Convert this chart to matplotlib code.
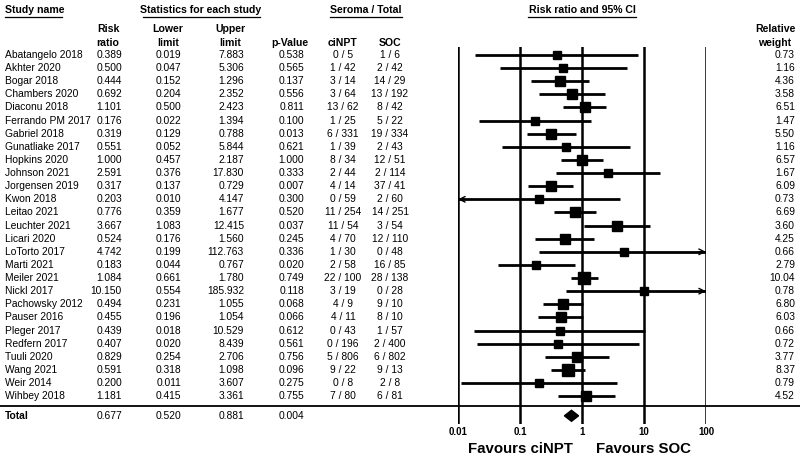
import numpy as np
import matplotlib
matplotlib.use("Agg")
import matplotlib.pyplot as plt
from matplotlib import transforms
from matplotlib.lines import Line2D

plt.rcParams['font.family'] = ['Liberation Sans', 'DejaVu Sans']

studies = ["Abatangelo 2018", "Akhter 2020", "Bogar 2018", "Chambers 2020", "Diaconu 2018",
           "Ferrando PM 2017", "Gabriel 2018", "Gunatliake 2017", "Hopkins 2020", "Johnson 2021",
           "Jorgensen 2019", "Kwon 2018", "Leitao 2021", "Leuchter 2021", "Licari 2020",
           "LoTorto 2017", "Marti 2021", "Meiler 2021", "Nickl 2017", "Pachowsky 2012",
           "Pauser 2016", "Pleger 2017", "Redfern 2017", "Tuuli 2020", "Wang 2021",
           "Weir 2014", "Wihbey 2018"]
risk_ratio = [0.389, 0.500, 0.444, 0.692, 1.101, 0.176, 0.319, 0.551, 1.000, 2.591,
              0.317, 0.203, 0.776, 3.667, 0.524, 4.742, 0.183, 1.084, 10.150, 0.494,
              0.455, 0.439, 0.407, 0.829, 0.591, 0.200, 1.181]
lower = [0.019, 0.047, 0.152, 0.204, 0.500, 0.022, 0.129, 0.052, 0.457, 0.376,
         0.137, 0.00995, 0.359, 1.083, 0.176, 0.199, 0.044, 0.661, 0.554, 0.231,
         0.196, 0.018, 0.020, 0.254, 0.318, 0.011, 0.415]
upper = [7.883, 5.306, 1.296, 2.352, 2.423, 1.394, 0.788, 5.844, 2.187, 17.830,
         0.729, 4.147, 1.677, 12.415, 1.560, 112.763, 0.767, 1.780, 185.932, 1.055,
         1.054, 10.529, 8.439, 2.706, 1.098, 3.607, 3.361]
p_value = [0.538, 0.565, 0.137, 0.556, 0.811, 0.100, 0.013, 0.621, 1.000, 0.333,
           0.007, 0.300, 0.520, 0.037, 0.245, 0.336, 0.020, 0.749, 0.118, 0.068,
           0.066, 0.612, 0.561, 0.756, 0.096, 0.275, 0.755]
cinpt = ["0 / 5", "1 / 42", "3 / 14", "3 / 64", "13 / 62", "1 / 25", "6 / 331", "1 / 39",
         "8 / 34", "2 / 44", "4 / 14", "0 / 59", "11 / 254", "11 / 54", "4 / 70", "1 / 30",
         "2 / 58", "22 / 100", "3 / 19", "4 / 9", "4 / 11", "0 / 43", "0 / 196", "5 / 806",
         "9 / 22", "0 / 8", "7 / 80"]
soc = ["1 / 6", "2 / 42", "14 / 29", "13 / 192", "8 / 42", "5 / 22", "19 / 334", "2 / 43",
       "12 / 51", "2 / 114", "37 / 41", "2 / 60", "14 / 251", "3 / 54", "12 / 110", "0 / 48",
       "16 / 85", "28 / 138", "0 / 28", "9 / 10", "8 / 10", "1 / 57", "2 / 400", "6 / 802",
       "9 / 13", "2 / 8", "6 / 81"]
weight = [0.73, 1.16, 4.36, 3.58, 6.51, 1.47, 5.50, 1.16, 6.57, 1.67, 6.09, 0.73, 6.69,
          3.60, 4.25, 0.66, 2.79, 10.04, 0.78, 6.80, 6.03, 0.66, 0.72, 3.77, 8.37, 0.79, 4.52]
total = {"rr": 0.677, "lo": 0.520, "hi": 0.881, "p": 0.004}
x_ticks = [0.01, 0.1, 1, 10, 100]
x_tick_labels = ["0.01", "0.1", "1", "10", "100"]

W, H = 800, 465
fig = plt.figure(figsize=(8, 4.65), dpi=100)

# forest plot axes, pixel layout
px_left, px_right, px_top, px_bot = 458, 706, 47, 424
ax = fig.add_axes([px_left / W, 1 - px_bot / H, (px_right - px_left) / W, (px_bot - px_top) / H])
ax.set_xscale('log')
ax.set_xlim(0.01, 100)
row0, step = 55, 13.12
ax.set_ylim((px_bot - row0) / step, (px_top - row0) / step)
ax.axis('off')

for t in x_ticks:
    ax.axvline(t, color='black', lw=1.8)

n = len(studies)
total_y = n + 0.5
for i in range(n):
    lo = max(lower[i], 0.01)
    hi = min(upper[i], 100)
    ax.plot([lo, hi], [i, i], color='black', lw=2.0, solid_capstyle='butt')
    if lower[i] < 0.01:
        ax.annotate("", xy=(0.01, i), xytext=(0.013, i),
                    arrowprops=dict(arrowstyle='->', color='black', lw=1.0, shrinkA=0, shrinkB=0))
    if upper[i] > 100:
        ax.annotate("", xy=(100, i), xytext=(75, i),
                    arrowprops=dict(arrowstyle='->', color='black', lw=1.0, shrinkA=0, shrinkB=0))
    ms = 5.4 + 0.36 * weight[i]
    ax.plot(risk_ratio[i], i, marker='s', color='black', ms=ms, mec='black')

# summary diamond
ax.fill([total["lo"], total["rr"], total["hi"], total["rr"]],
        [total_y, total_y - 0.42, total_y, total_y + 0.42], color='black', clip_on=False)

for t, lab in zip(x_ticks, x_tick_labels):
    ax.text(t, n + 1.75, lab, ha='center', va='center', fontsize=7, fontweight='bold', clip_on=False)
ax.text(0.1, n + 3.0, "Favours ciNPT", ha='center', va='center', fontsize=10.8, fontweight='bold', clip_on=False)
ax.text(10, n + 3.0, "Favours SOC", ha='center', va='center', fontsize=10.8, fontweight='bold', clip_on=False)

# table columns
tr = transforms.blended_transform_factory(fig.transFigure, ax.transData)
fs = 7.4
cols_right = {"rr": 122, "lo": 181, "hi": 244, "p": 304}
for i in range(n):
    ax.text(5 / W, i, studies[i], transform=tr, ha='left', va='center', fontsize=fs)
    ax.text(cols_right["rr"] / W, i, f"{risk_ratio[i]:.3f}", transform=tr, ha='right', va='center', fontsize=fs)
    ax.text(cols_right["lo"] / W, i, f"{lower[i]:.3f}", transform=tr, ha='right', va='center', fontsize=fs)
    ax.text(cols_right["hi"] / W, i, f"{upper[i]:.3f}", transform=tr, ha='right', va='center', fontsize=fs)
    ax.text(cols_right["p"] / W, i, f"{p_value[i]:.3f}", transform=tr, ha='right', va='center', fontsize=fs)
    ax.text(343 / W, i, cinpt[i], transform=tr, ha='center', va='center', fontsize=fs)
    ax.text(390 / W, i, soc[i], transform=tr, ha='center', va='center', fontsize=fs)
    ax.text(795 / W, i, f"{weight[i]:.2f}", transform=tr, ha='right', va='center', fontsize=fs)

ax.text(5 / W, total_y, "Total", transform=tr, ha='left', va='center', fontsize=fs, fontweight='bold')
ax.text(cols_right["rr"] / W, total_y, f"{total['rr']:.3f}", transform=tr, ha='right', va='center', fontsize=fs)
ax.text(cols_right["lo"] / W, total_y, f"{total['lo']:.3f}", transform=tr, ha='right', va='center', fontsize=fs)
ax.text(cols_right["hi"] / W, total_y, f"{total['hi']:.3f}", transform=tr, ha='right', va='center', fontsize=fs)
ax.text(cols_right["p"] / W, total_y, f"{total['p']:.3f}", transform=tr, ha='right', va='center', fontsize=fs)

# separator above total
fig.add_artist(Line2D([0, 1], [n - 0.25, n - 0.25], transform=tr, color='black', lw=1.3))

# headers
def fy(py):
    return 1 - py / H

hfs = 7.6
top_heads = [("Study name", 5, 'left', 5, 62), ("Statistics for each study", 201, 'center', 143, 260),
             ("Seroma / Total", 366, 'center', 330, 402), ("Risk ratio and 95% CI", 582, 'center', 528, 636)]
for txt, x, ha, u0, u1 in top_heads:
    fig.text(x / W, fy(10), txt, ha=ha, va='center', fontsize=hfs, fontweight='bold')
    fig.add_artist(Line2D([u0 / W, u1 / W], [fy(17), fy(17)], color='black', lw=0.9))

sub_heads = [("Risk", "ratio", 108), ("Lower", "limit", 168), ("Upper", "limit", 230),
             ("", "p-Value", 290), ("", "ciNPT", 343), ("", "SOC", 390), ("Relative", "weight", 775)]
for line1, line2, x in sub_heads:
    if line1:
        fig.text(x / W, fy(29), line1, ha='center', va='center', fontsize=hfs, fontweight='bold')
    fig.text(x / W, fy(43), line2, ha='center', va='center', fontsize=hfs, fontweight='bold')

fig.savefig("out.png", dpi=100)
